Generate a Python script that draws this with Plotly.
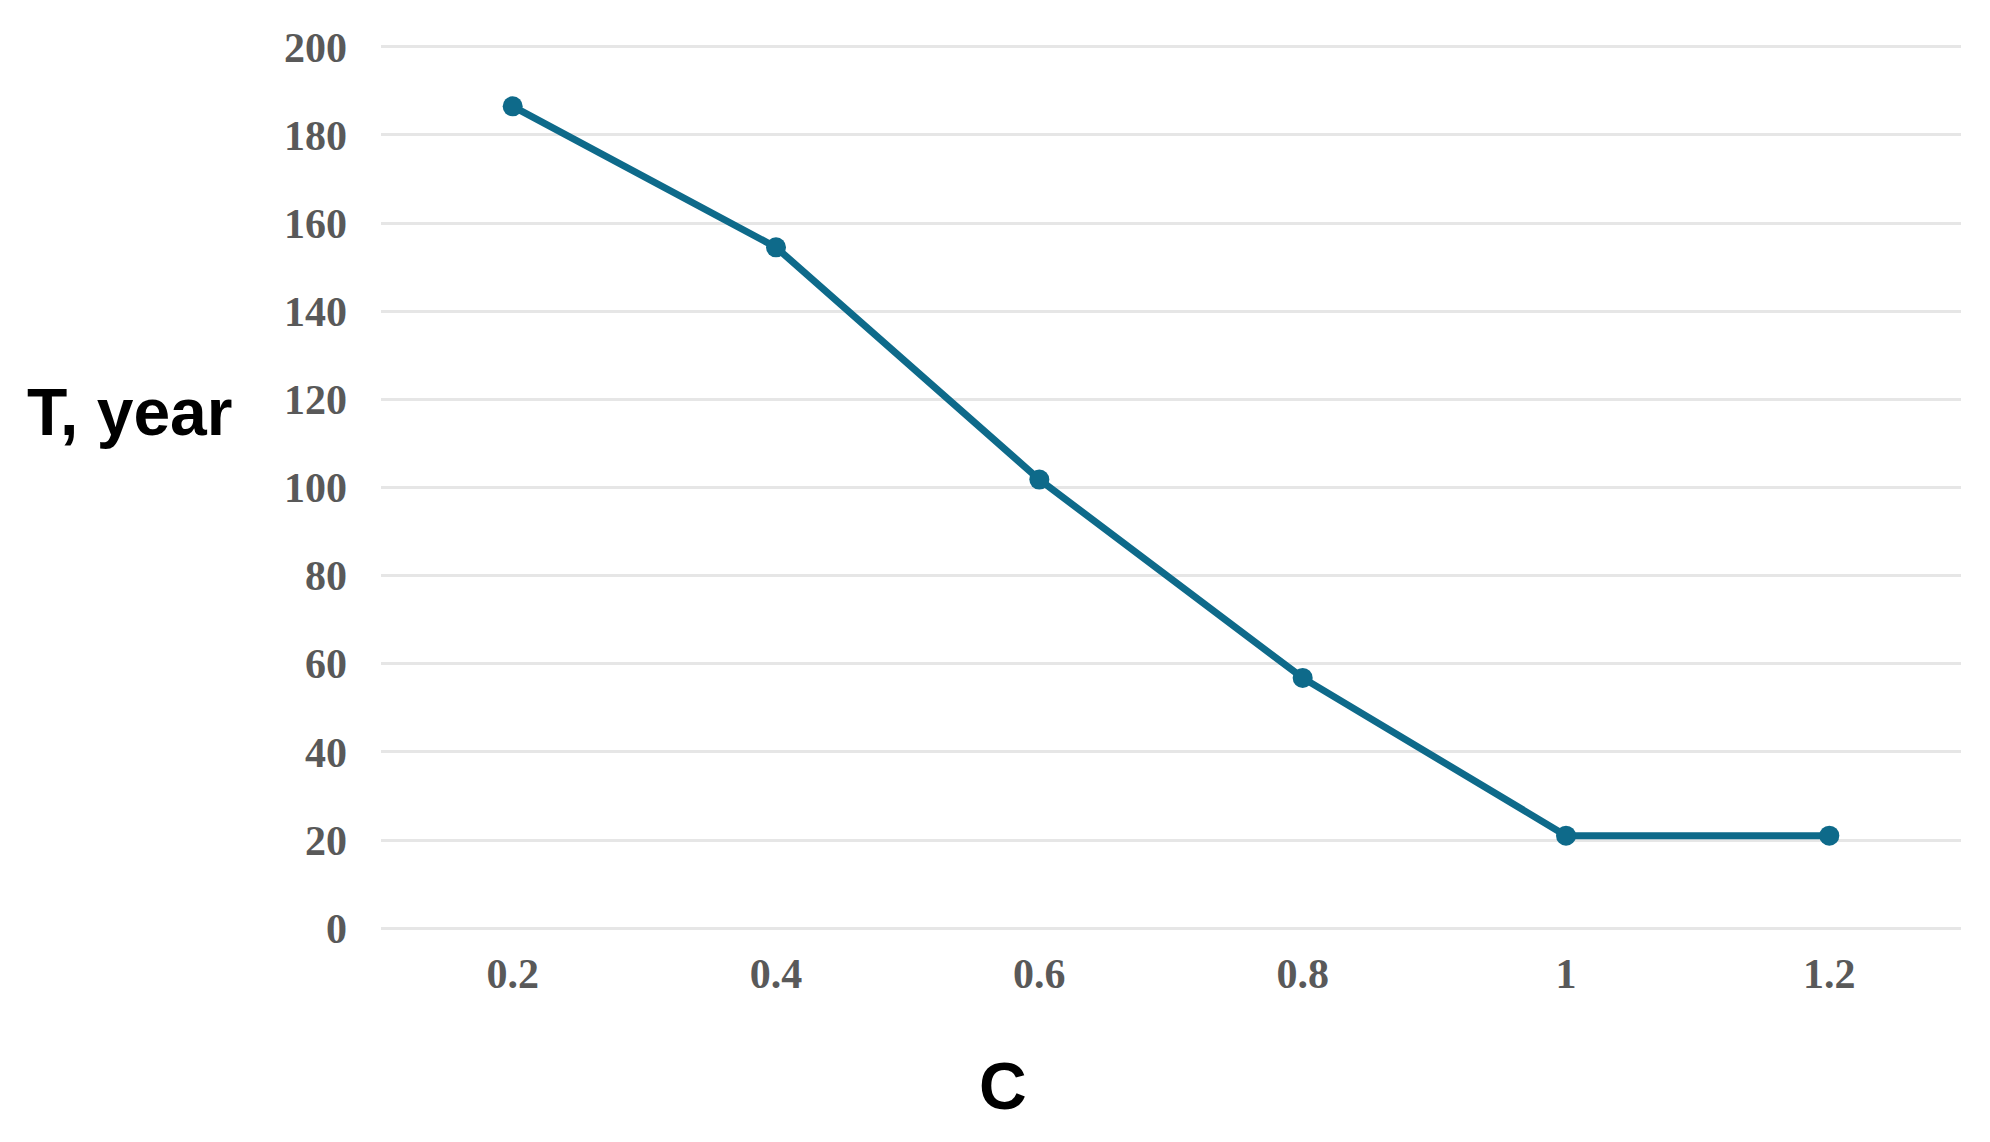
import plotly.graph_objects as go

# Valeurs
c_values = ["0.2", "0.4", "0.6", "0.8", "1", "1.2"]
t_years = [186.5, 154.5, 101.8, 56.8, 21, 21]
y_ticks = [0, 20, 40, 60, 80, 100, 120, 140, 160, 180, 200]

LINE_COLOR = "#0e6a8a"
TICK_FONT = dict(family="Liberation Serif", size=42, color="#595959", weight="bold")
TITLE_FONT = dict(family="Liberation Sans", size=66, color="black")

fig = go.Figure()

fig.add_trace(go.Scatter(
    x=c_values,
    y=t_years,
    mode="lines+markers",
    line=dict(color=LINE_COLOR, width=7),
    marker=dict(color=LINE_COLOR, size=20),
    showlegend=False,
))

# Titres d'axes (placés comme sur l'original)
fig.add_annotation(
    text="<b>T, year</b>", xref="paper", yref="paper",
    x=-0.2253, y=0.584, xanchor="left", yanchor="middle",
    showarrow=False, font=TITLE_FONT,
)
fig.add_annotation(
    text="<b>C</b>", xref="paper", yref="paper",
    x=0.3937, y=-0.166, xanchor="center", yanchor="middle",
    showarrow=False, font=TITLE_FONT,
)

# la page ajoute une marge de 8 px autour du graphique
fig.update_layout(
    width=1974,
    height=1126,
    template="plotly_white",
    plot_bgcolor="white",
    paper_bgcolor="white",
    margin=dict(l=373, r=21, t=30, b=197),
    xaxis=dict(
        type="category",
        range=[-0.5, 5.5],
        showgrid=False,
        showline=False,
        zeroline=False,
        tickfont=TICK_FONT,
        ticks="",
        ticklabelstandoff=8,
    ),
    yaxis=dict(
        range=[-2, 202],
        tickvals=y_ticks,
        showgrid=True,
        gridcolor="#e6e6e6",
        gridwidth=3,
        zeroline=False,
        showline=False,
        tickfont=TICK_FONT,
        ticks="",
        ticklabelstandoff=33,
    ),
)

fig.write_html("out.html")
